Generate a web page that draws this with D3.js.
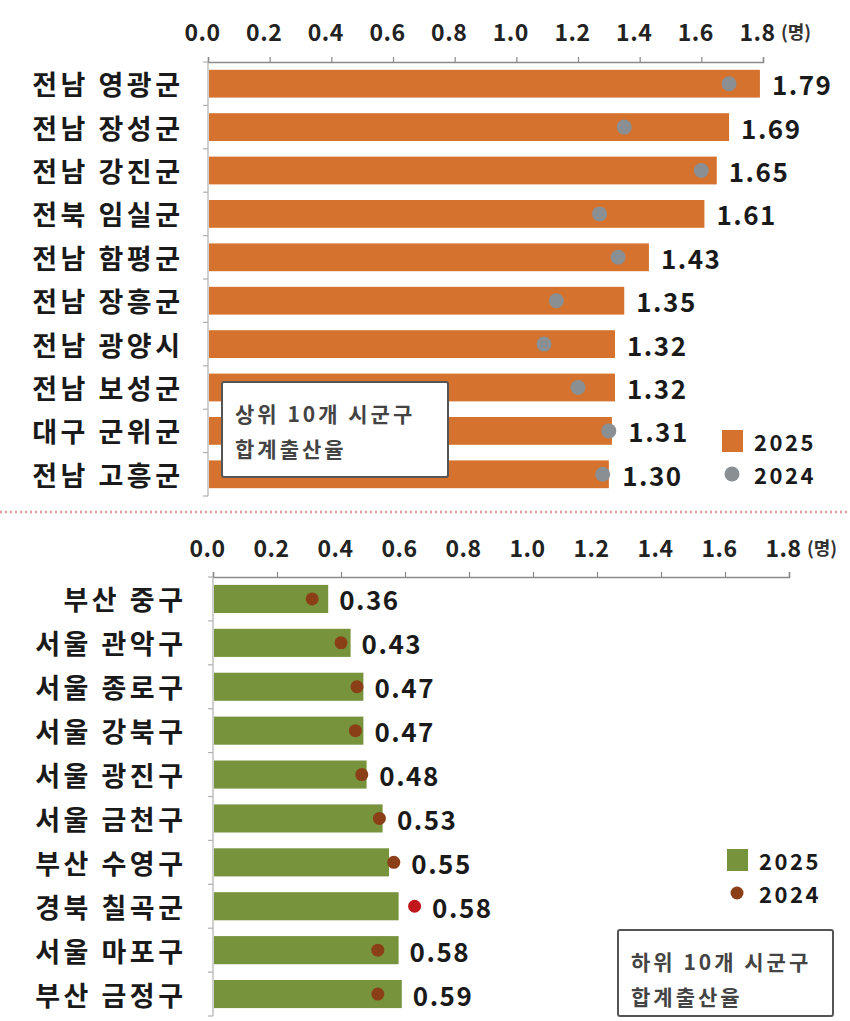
<!DOCTYPE html>
<html>
<head>
<meta charset="utf-8">
<script src="https://cdn.jsdelivr.net/npm/d3@7"></script>
<style>
  body { margin: 0; background: #fff; }
  text { font-family: "Noto Sans CJK KR", "Noto Sans", sans-serif; }
</style>
</head>
<body>
<div id="chart"></div>
<script>
// 상위 10개 시군구
var top_names = ["전남 영광군", "전남 장성군", "전남 강진군", "전북 임실군", "전남 함평군",
                 "전남 장흥군", "전남 광양시", "전남 보성군", "대구 군위군", "전남 고흥군"];
var top_2025 = [1.79, 1.69, 1.65, 1.61, 1.43, 1.35, 1.32, 1.32, 1.31, 1.30];
var top_2024 = [1.69, 1.35, 1.60, 1.27, 1.33, 1.13, 1.09, 1.20, 1.30, 1.28];

// 하위 10개 시군구
var bottom_names = ["부산 중구", "서울 관악구", "서울 종로구", "서울 강북구", "서울 광진구",
                    "서울 금천구", "부산 수영구", "경북 칠곡군", "서울 마포구", "부산 금정구"];
var bottom_2025 = [0.36, 0.43, 0.47, 0.47, 0.48, 0.53, 0.55, 0.58, 0.58, 0.59];
var bottom_2024 = [0.31, 0.40, 0.45, 0.445, 0.465, 0.52, 0.565, 0.63, 0.515, 0.515];

var x_ticks = [0, 0.2, 0.4, 0.6, 0.8, 1.0, 1.2, 1.4, 1.6, 1.8];
var series_names = ["2025", "2024"];

var W = 850, H = 1021;

var svg = d3.select("#chart").append("svg")
    .attr("width", W)
    .attr("height", H);

function draw_panel(opt) {

    let g = svg.append("g");

    let x = d3.scaleLinear().domain([0, 1.8]).range([opt.x0, opt.x1]);
    let y = d3.scaleBand().domain(opt.names).range([opt.y0, opt.y1]).paddingInner(0.36).paddingOuter(0.18);

    // x axis on top
    let xa = g.append("g")
        .attr("transform", "translate(0," + opt.y0 + ")")
        .call(d3.axisTop(x).tickValues(x_ticks).tickSize(5).tickSizeOuter(5).tickFormat(d3.format(".1f")));
    xa.select(".domain").attr("stroke", "#8a8a8a").attr("stroke-width", 1.5);
    xa.selectAll(".tick line").attr("stroke", "#8a8a8a").attr("stroke-width", 1.2);
    xa.selectAll(".tick text")
        .attr("y", opt.tickLabelY - opt.y0)
        .attr("dx", -6)
        .attr("fill", "#222")
        .attr("font-size", 23)
        .attr("font-weight", "bold")
        .attr("letter-spacing", 0.5)
        .attr("dominant-baseline", "central");

    g.append("text")
        .attr("x", x(1.8) + 18)
        .attr("y", opt.tickLabelY)
        .attr("dominant-baseline", "central")
        .attr("font-size", 18)
        .attr("font-weight", "bold")
        .attr("fill", "#333")
        .text("(명)");

    // y axis line with ticks between the rows
    g.append("line")
        .attr("x1", opt.x0).attr("x2", opt.x0)
        .attr("y1", opt.y0).attr("y2", opt.y1)
        .attr("stroke", "#b0b0b0").attr("stroke-width", 1.2);
    let step = y.step();
    let bounds = d3.range(opt.names.length + 1).map(i => opt.y0 + y.paddingOuter() * step - y.paddingInner() * step / 2 + i * step);
    g.selectAll(".ytick").data(bounds).join("line")
        .attr("x1", opt.x0 - 5).attr("x2", opt.x0)
        .attr("y1", d => d).attr("y2", d => d)
        .attr("stroke", "#b0b0b0").attr("stroke-width", 1.2);

    // bars
    g.selectAll(".bar").data(opt.names).join("rect")
        .attr("x", x(0) + 1)
        .attr("y", d => y(d))
        .attr("width", (d, i) => x(opt.cur[i]) - x(0) - 1)
        .attr("height", y.bandwidth())
        .attr("fill", opt.barColor);

    // category labels
    g.selectAll(".cat").data(opt.names).join("text")
        .attr("x", opt.labelRight + 3.5)
        .attr("y", d => y(d) + y.bandwidth() / 2)
        .attr("text-anchor", "end")
        .attr("dominant-baseline", "central")
        .attr("font-size", 27)
        .attr("font-weight", "bold")
        .attr("letter-spacing", 3.5)
        .attr("fill", "#1a1a1a")
        .text(d => d);

    // 2024 dots
    g.selectAll(".dot").data(opt.names).join("circle")
        .attr("cx", (d, i) => x(opt.prev[i]))
        .attr("cy", d => y(d) + y.bandwidth() / 2)
        .attr("r", opt.dotR)
        .attr("fill", (d, i) => opt.prev[i] > opt.cur[i] + 0.02 ? opt.dotUp : opt.dotColor);

    // value labels
    g.selectAll(".val").data(opt.names).join("text")
        .attr("x", (d, i) => Math.max(x(opt.cur[i]), x(opt.prev[i]) + opt.dotR) + opt.gap)
        .attr("y", d => y(d) + y.bandwidth() / 2)
        .attr("dominant-baseline", "central")
        .attr("font-size", 26)
        .attr("font-weight", "bold")
        .attr("letter-spacing", 1.5)
        .attr("fill", "#1a1a1a")
        .text((d, i) => opt.cur[i].toFixed(2));

    // note box
    let b = opt.box;
    g.append("rect")
        .attr("x", b.x).attr("y", b.y)
        .attr("width", b.w).attr("height", b.h)
        .attr("rx", 2)
        .attr("fill", "#fff")
        .attr("stroke", "#555")
        .attr("stroke-width", 2);
    g.selectAll(".boxtext").data(opt.boxLines).join("text")
        .attr("x", b.x + 13)
        .attr("y", (d, i) => b.y + 31 + i * 35)
        .attr("dominant-baseline", "central")
        .attr("font-size", 21)
        .attr("font-weight", "bold")
        .attr("letter-spacing", 3)
        .attr("fill", "#444")
        .text(d => d);

    // legend
    let lg = g.append("g").attr("transform", "translate(" + opt.legend[0] + "," + opt.legend[1] + ")");
    lg.append("rect")
        .attr("x", -10).attr("y", -11)
        .attr("width", 21).attr("height", 22)
        .attr("fill", opt.barColor);
    lg.append("circle")
        .attr("cx", 0).attr("cy", 33)
        .attr("r", opt.dotR)
        .attr("fill", opt.dotColor);
    lg.selectAll(".lgt").data(series_names).join("text")
        .attr("x", 22)
        .attr("y", (d, i) => i * 33)
        .attr("dominant-baseline", "central")
        .attr("font-size", 22)
        .attr("font-weight", "bold")
        .attr("letter-spacing", 2.5)
        .attr("fill", "#1a1a1a")
        .text(d => d);
}

draw_panel({
    names: top_names, cur: top_2025, prev: top_2024,
    x0: 208, x1: 763, y0: 62, y1: 496, tickLabelY: 31, labelRight: 180,
    barColor: "#d5722d", dotColor: "#8a8f93", dotUp: "#8a8f93", dotR: 7.5, gap: 12,
    box: {x: 222, y: 382, w: 226, h: 95},
    boxLines: ["상위 10개 시군구", "합계출산율"],
    legend: [732, 441]
});

// dotted divider
svg.append("line")
    .attr("x1", 0).attr("x2", W)
    .attr("y1", 512).attr("y2", 512)
    .attr("stroke", "#e59a9a")
    .attr("stroke-width", 2.5)
    .attr("stroke-dasharray", "2,3");

draw_panel({
    names: bottom_names, cur: bottom_2025, prev: bottom_2024,
    x0: 213, x1: 789, y0: 577, y1: 1016, tickLabelY: 547, labelRight: 183,
    barColor: "#77933c", dotColor: "#8b3f17", dotUp: "#c0161c", dotR: 6.5, gap: 11,
    box: {x: 618, y: 930, w: 215, h: 86},
    boxLines: ["하위 10개 시군구", "합계출산율"],
    legend: [737, 860]
});
</script>
</body>
</html>
